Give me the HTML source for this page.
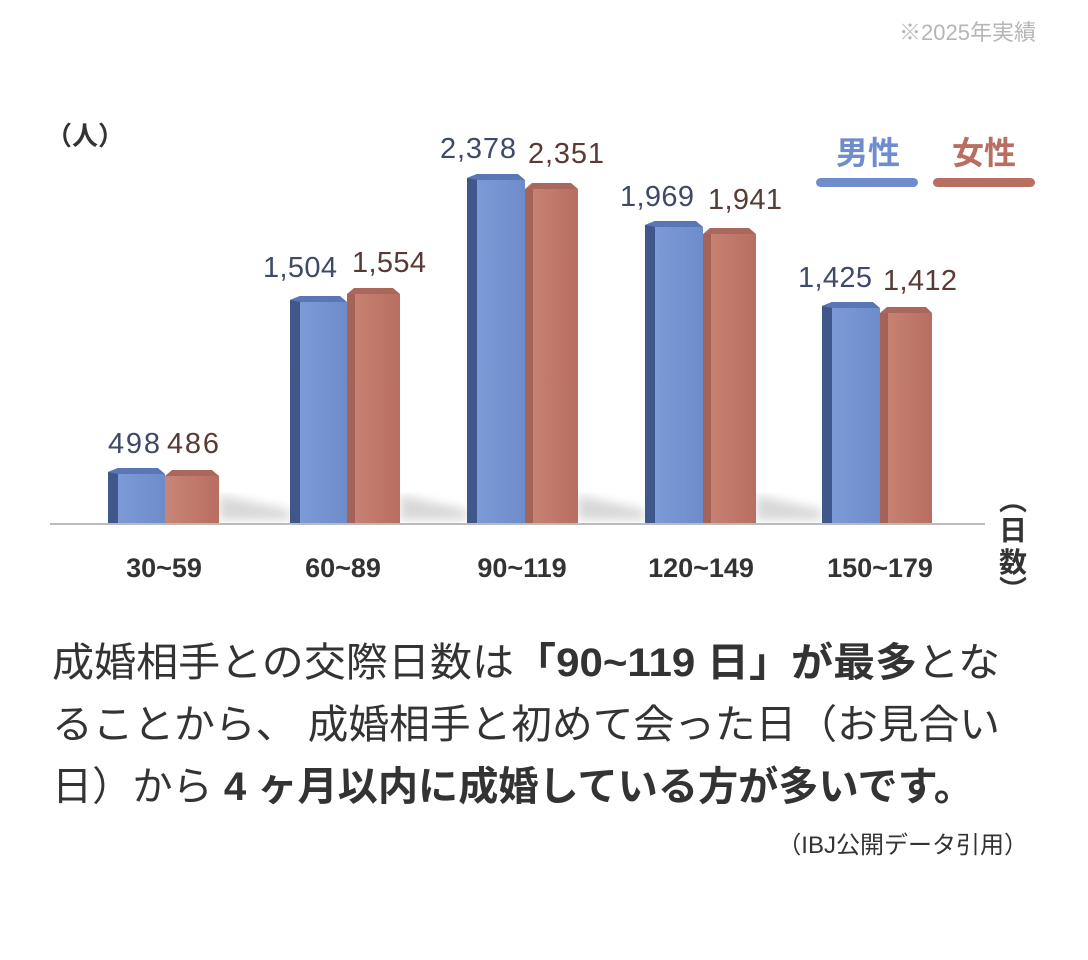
<!DOCTYPE html>
<html><head><meta charset="utf-8"><style>
body{margin:0;background:#fff;width:1088px;height:960px;overflow:hidden;font-family:"Liberation Sans","Noto Sans CJK JP",sans-serif;}
</style></head><body>
<svg width="1088" height="960" xmlns="http://www.w3.org/2000/svg" style="position:absolute;left:0;top:0">
<defs>
<linearGradient id="bf" x1="0" x2="1"><stop offset="0" stop-color="#7c9ad6"/><stop offset="1" stop-color="#6e8cca"/></linearGradient>
<linearGradient id="rf" x1="0" x2="1"><stop offset="0" stop-color="#c98576"/><stop offset="1" stop-color="#b86e60"/></linearGradient>
<filter id="sh"><feGaussianBlur stdDeviation="5"/></filter>
</defs>
<text x="1036" y="40" font-size="22" fill="#b5b5b5" text-anchor="end" font-family="Liberation Sans,Noto Sans CJK JP,sans-serif">※2025年実績</text>
<text x="46" y="145" font-size="26" font-weight="bold" fill="#333" font-family="Liberation Sans,Noto Sans CJK JP,sans-serif">（人）</text>
<text x="868" y="164" font-size="32" font-weight="bold" fill="#6f8ccc" text-anchor="middle" font-family="Liberation Sans,Noto Sans CJK JP,sans-serif">男性</text>
<rect x="816" y="178" width="102" height="9" rx="4.5" fill="#6f8ccc"/>
<text x="984" y="164" font-size="32" font-weight="bold" fill="#b86e60" text-anchor="middle" font-family="Liberation Sans,Noto Sans CJK JP,sans-serif">女性</text>
<rect x="933" y="178" width="102" height="9" rx="4.5" fill="#b86e60"/>
<line x1="50" y1="524" x2="985" y2="524" stroke="#bbb" stroke-width="2"/>
<g filter="url(#sh)" fill="#d8d8d8">
<polygon points="219,495 290,510 290,520 219,520"/>
<polygon points="400,495 467,510 467,520 400,520"/>
<polygon points="578,495 645,510 645,520 578,520"/>
<polygon points="756,495 822,510 822,520 756,520"/>
</g>
<g font-size="29" font-family="Liberation Sans,sans-serif">
<g>
<polygon points="108,472 118,468 118,523 108,523" fill="#3f578a"/><rect x="118" y="474" width="47" height="49" fill="url(#bf)"/><polygon points="108,472 118,468 158,468 165,474 118,474" fill="#5a76b5"/>
<polygon points="165,476 172,470 212,470 219,476" fill="#a9685b"/><rect x="165" y="476" width="54" height="47" fill="url(#rf)"/>
<text x="134" y="453" fill="#3f4a6a" text-anchor="middle" textLength="52">498</text>
<text x="193" y="453" fill="#5a3a34" text-anchor="middle" textLength="52">486</text>
</g>
<g>
<polygon points="290,300 300,296 300,523 290,523" fill="#3f578a"/><rect x="300" y="302" width="47" height="221" fill="url(#bf)"/><polygon points="290,300 300,296 340,296 347,302 300,302" fill="#5a76b5"/>
<polygon points="347,294 354,288 393,288 400,294" fill="#a9685b"/><rect x="347" y="294" width="53" height="229" fill="url(#rf)"/><rect x="347" y="294" width="8" height="229" fill="#8e4f44" opacity=".6"/>
<text x="300" y="277" fill="#3f4a6a" text-anchor="middle" textLength="74">1,504</text>
<text x="389" y="272" fill="#5a3a34" text-anchor="middle" textLength="74">1,554</text>
</g>
<g>
<polygon points="467,178 477,174 477,523 467,523" fill="#3f578a"/><rect x="477" y="180" width="48" height="343" fill="url(#bf)"/><polygon points="467,178 477,174 518,174 525,180 477,180" fill="#5a76b5"/>
<polygon points="525,189 532,183 571,183 578,189" fill="#a9685b"/><rect x="525" y="189" width="53" height="334" fill="url(#rf)"/><rect x="525" y="189" width="8" height="334" fill="#8e4f44" opacity=".6"/>
<text x="478" y="158" fill="#3f4a6a" text-anchor="middle" textLength="76">2,378</text>
<text x="566" y="163" fill="#5a3a34" text-anchor="middle" textLength="76">2,351</text>
</g>
<g>
<polygon points="645,225 655,221 655,523 645,523" fill="#3f578a"/><rect x="655" y="227" width="48" height="296" fill="url(#bf)"/><polygon points="645,225 655,221 696,221 703,227 655,227" fill="#5a76b5"/>
<polygon points="703,234 710,228 749,228 756,234" fill="#a9685b"/><rect x="703" y="234" width="53" height="289" fill="url(#rf)"/><rect x="703" y="234" width="8" height="289" fill="#8e4f44" opacity=".6"/>
<text x="657" y="206" fill="#3f4a6a" text-anchor="middle" textLength="74">1,969</text>
<text x="745" y="209" fill="#5a3a34" text-anchor="middle" textLength="74">1,941</text>
</g>
<g>
<polygon points="822,306 832,302 832,523 822,523" fill="#3f578a"/><rect x="832" y="308" width="48" height="215" fill="url(#bf)"/><polygon points="822,306 832,302 873,302 880,308 832,308" fill="#5a76b5"/>
<polygon points="880,313 887,307 926,307 932,313" fill="#a9685b"/><rect x="880" y="313" width="52" height="210" fill="url(#rf)"/><rect x="880" y="313" width="8" height="210" fill="#8e4f44" opacity=".6"/>
<text x="835" y="287" fill="#3f4a6a" text-anchor="middle" textLength="74">1,425</text>
<text x="920" y="290" fill="#5a3a34" text-anchor="middle" textLength="74">1,412</text>
</g>
</g>
<g font-size="27" font-weight="bold" fill="#333" text-anchor="middle">
<text x="164" y="577">30~59</text><text x="343" y="577">60~89</text><text x="522" y="577">90~119</text><text x="701" y="577">120~149</text><text x="880" y="577">150~179</text>
</g>
<g font-size="28" font-weight="bold" fill="#333" text-anchor="middle" font-family="Liberation Sans,Noto Sans CJK JP,sans-serif">
<text x="1013" y="510">︵</text><text x="1013" y="540">日</text><text x="1013" y="572">数</text><text x="1013" y="600">︶</text>
</g>
<g font-size="40" fill="#333" font-family="Liberation Sans,Noto Sans CJK JP,sans-serif">
<text x="52" y="676" textLength="948" lengthAdjust="spacingAndGlyphs">成婚相手との交際日数は<tspan font-weight="bold">「90~119 日」が最多</tspan>とな</text>
<text x="52" y="738" textLength="948" lengthAdjust="spacingAndGlyphs">ることから、 成婚相手と初めて会った日（お見合い</text>
<text x="52" y="800" textLength="922" lengthAdjust="spacingAndGlyphs">日）から<tspan font-weight="bold"> 4 ヶ月以内に成婚している方が多いです。</tspan></text>
</g>
<text x="1028" y="853" font-size="24" fill="#333" text-anchor="end" font-family="Liberation Sans,Noto Sans CJK JP,sans-serif">（IBJ公開データ引用）</text>
</svg>
</body></html>
